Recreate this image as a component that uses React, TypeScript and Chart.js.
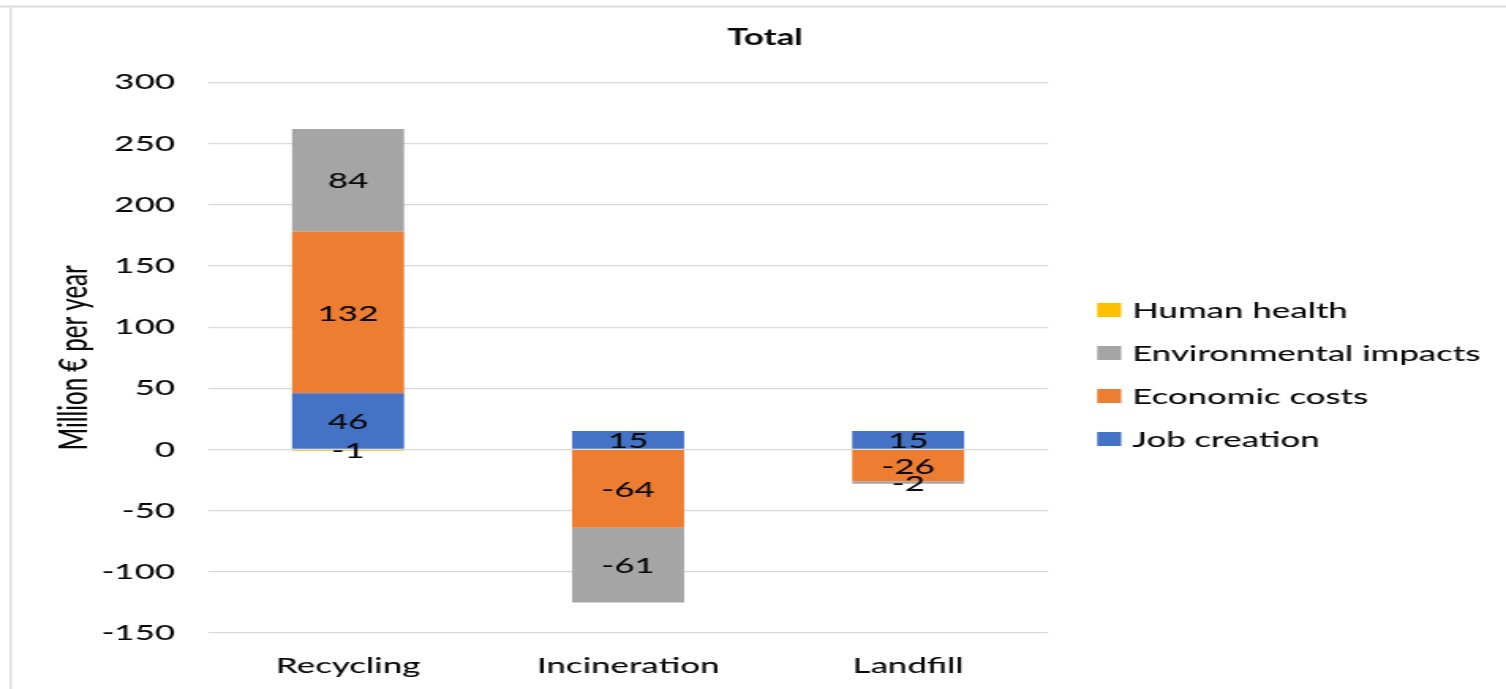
import React, { useEffect, useRef } from "react";
import { Chart, registerables } from "chart.js";

Chart.register(...registerables);

const categories = ["Recycling", "Incineration", "Landfill"];
const seriesNames = ["Job creation", "Economic costs", "Environmental impacts", "Human health"];
const jobCreation = [46, 15, 15];
const economicCosts = [132, -64, -26];
const environmentalImpacts = [84, -61, -2];
const humanHealth = [-1, 0, 0];
const seriesColors = ["#4472C4", "#ED7D31", "#A5A5A5", "#FFC000"];
const yTicks = { min: -150, max: 300, step: 50 };
const chartTitle = "Total";
const yTitle = "Million € per year";

const CSS_W = 1506;
const CSS_H = 689;
const S = 1.58;
const W = Math.round(CSS_W / S);
const FONT = "Lato, 'Open Sans', sans-serif";
const WEIGHT = "500";
const TEXT = "#0a0a0a";
const PAD_L = (765 * 2) / S - W;

const borderPlugin = {
  id: "frameBorder",
  beforeDraw(chart: any) {
    const ctx = chart.ctx;
    ctx.save();
    ctx.fillStyle = "#dcdcdc";
    ctx.fillRect(0, 5.5, chart.width, 2);
    ctx.fillRect(9.5 / S, 5.5, 2.2 / S, chart.height);
    ctx.restore();
  },
};

const labelPlugin = {
  id: "segmentLabels",
  afterDatasetsDraw(chart: any) {
    const ctx = chart.ctx;
    ctx.save();
    ctx.font = `${WEIGHT} 22px ${FONT}`;
    ctx.fillStyle = TEXT;
    ctx.textAlign = "center";
    ctx.textBaseline = "middle";
    chart.data.datasets.forEach((ds: any, di: number) => {
      const meta = chart.getDatasetMeta(di);
      meta.data.forEach((el: any, i: number) => {
        const v = ds.data[i];
        if (!v) return;
        const props = el.getProps(["x", "y", "base"], true);
        ctx.fillText(String(v), props.x, (props.y + props.base) / 2 + 1);
      });
    });
    ctx.restore();
  },
};

const legendPlugin = {
  id: "sideLegend",
  afterDraw(chart: any) {
    const ctx = chart.ctx;
    ctx.save();
    ctx.font = `${WEIGHT} 22px ${FONT}`;
    ctx.textBaseline = "middle";
    ctx.textAlign = "left";
    const ds = chart.data.datasets;
    for (let k = 0; k < ds.length; k++) {
      const d = ds[ds.length - 1 - k];
      const cy = 310 + 43 * k;
      ctx.fillStyle = d.backgroundColor;
      ctx.fillRect(1097 / S, cy - 7, 24 / S, 14);
      ctx.fillStyle = TEXT;
      ctx.fillText(d.label, 1132 / S, cy + 1);
    }
    ctx.restore();
  },
};

export default function App() {
  const ref = useRef<HTMLCanvasElement | null>(null);
  useEffect(() => {
    if (!ref.current) return;
    const values = [jobCreation, economicCosts, environmentalImpacts, humanHealth];
    const chart = new Chart(ref.current, {
      type: "bar",
      data: {
        labels: categories,
        datasets: seriesNames.map((name, i) => ({
          label: name,
          data: values[i],
          backgroundColor: seriesColors[i],
          borderWidth: 0,
          categoryPercentage: 1,
          barPercentage: 0.4,
        })),
      },
      options: {
        responsive: false,
        devicePixelRatio: 1,
        animation: false,
        layout: { padding: { left: PAD_L, right: 0, top: 0, bottom: 0 } },
        plugins: {
          legend: { display: false },
          tooltip: { enabled: false },
          title: {
            display: true,
            text: chartTitle,
            color: TEXT,
            font: { family: FONT, size: 22, weight: "bold" },
            padding: { top: 25, bottom: 31 },
          },
        },
        scales: {
          x: {
            stacked: true,
            grid: { display: false, drawTicks: false },
            border: { display: false },
            ticks: { color: TEXT, font: { family: FONT, size: 22, weight: WEIGHT }, padding: 20 },
            afterFit: (s: any) => {
              s.height = CSS_H - 633;
            },
          },
          y: {
            stacked: true,
            min: yTicks.min,
            max: yTicks.max,
            ticks: { stepSize: yTicks.step, color: TEXT, font: { family: FONT, size: 22, weight: WEIGHT }, padding: 21 },
            grid: { color: "#d9d9d9", lineWidth: 1.2, drawTicks: false },
            border: { display: false },
            title: {
              display: true,
              text: yTitle,
              color: TEXT,
              font: { family: FONT, size: 24, weight: WEIGHT },
              padding: { top: 18, bottom: 0 },
            },
            afterFit: (s: any) => {
              s.width = 208 / S - PAD_L;
            },
          },
          y2: {
            position: "right",
            display: true,
            grid: { display: false, drawTicks: false },
            border: { display: false },
            ticks: { display: false },
            afterFit: (s: any) => {
              s.width = W - 1048 / S;
            },
          },
        },
      } as any,
      plugins: [borderPlugin, labelPlugin, legendPlugin],
    });
    return () => chart.destroy();
  }, []);
  return (
    <canvas
      ref={ref}
      width={W}
      height={CSS_H}
      style={{ position: "absolute", left: 0, top: 0, width: CSS_W + "px", height: CSS_H + "px", display: "block" }}
    />
  );
}
